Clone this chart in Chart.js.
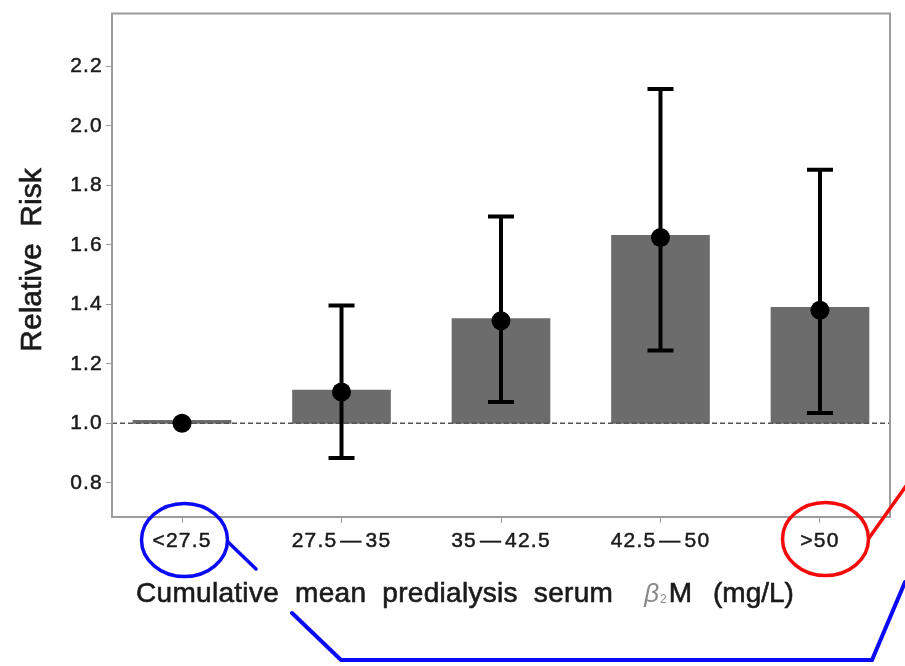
<!DOCTYPE html>
<html>
<head>
<meta charset="utf-8">
<script src="https://cdn.jsdelivr.net/npm/chart.js@4"></script>
<style>
html,body{margin:0;padding:0;background:#fff;}
#wrap{width:905px;height:666px;}
</style>
</head>
<body>
<div id="wrap"><canvas id="c" width="905" height="666"></canvas></div>
<script>
// ---- data ----
const categories = ["<27.5", "27.5\u200a\u2014\u200a35", "35\u200a\u2014\u200a42.5", "42.5\u200a\u2014\u200a50", ">50"];
const barValues = [1.0, 1.112, 1.352, 1.632, 1.39];
const pointValues = [1.0, 1.105, 1.345, 1.625, 1.38];
const lowerCI = [null, 0.883, 1.072, 1.245, 1.035];
const upperCI = [null, 1.396, 1.695, 2.124, 1.853];
const yTickValues = [0.8, 1.0, 1.2, 1.4, 1.6, 1.8, 2.0, 2.2];
const referenceValue = 1.0;
const yTitle = "Relative  Risk";
const xTitleParts = ["Cumulative", "mean", "predialysis", "serum"];

const FONT = "'Liberation Sans', Arial, Helvetica, sans-serif";
const TEXT = '#1a1a1a';

const barData = categories.map((c, i) => ({x: i + 1, y: [referenceValue, barValues[i]]}));
const pointData = categories.map((c, i) => ({x: i + 1, y: pointValues[i]}));

function boldText(ctx, t, x, y, w) {
  ctx.lineWidth = w;
  ctx.strokeStyle = ctx.fillStyle;
  ctx.strokeText(t, x, y);
  ctx.fillText(t, x, y);
}

const overlay = {
  id: 'overlay',
  beforeDraw(chart) { chart.ctx.letterSpacing = '1.2px'; },
  afterDatasetDraw(chart, args) {
    if (args.index !== 0) return;
    const {ctx, chartArea: a, scales: {x, y}} = chart;
    ctx.save();
    const yr = y.getPixelForValue(referenceValue);
    ctx.strokeStyle = '#555';
    ctx.lineWidth = 1.5;
    ctx.setLineDash([5, 3]);
    ctx.beginPath(); ctx.moveTo(a.left, yr); ctx.lineTo(a.right, yr); ctx.stroke();
    ctx.setLineDash([]);
    ctx.strokeStyle = '#000';
    ctx.lineWidth = 4;
    for (let i = 0; i < categories.length; i++) {
      if (lowerCI[i] == null) continue;
      const px = x.getPixelForValue(i + 1);
      const lo = y.getPixelForValue(lowerCI[i]);
      const hi = y.getPixelForValue(upperCI[i]);
      ctx.beginPath();
      ctx.moveTo(px, lo); ctx.lineTo(px, hi);
      ctx.moveTo(px - 13, lo); ctx.lineTo(px + 13, lo);
      ctx.moveTo(px - 13, hi); ctx.lineTo(px + 13, hi);
      ctx.stroke();
    }
    ctx.restore();
  },
  afterDraw(chart) {
    const {ctx, chartArea: a} = chart;
    ctx.save();
    ctx.letterSpacing = '0px';
    ctx.strokeStyle = '#9c9c9c';
    ctx.lineWidth = 2;
    ctx.strokeRect(a.left, a.top, a.right - a.left, a.bottom - a.top);
    // y title
    ctx.fillStyle = TEXT;
    ctx.font = "30px " + FONT;
    ctx.save();
    ctx.translate(33, 260);
    ctx.rotate(-Math.PI / 2);
    ctx.textAlign = 'center';
    ctx.textBaseline = 'middle';
    boldText(ctx, yTitle, 0, 0, 0.6);
    ctx.restore();
    // x title
    ctx.textBaseline = 'alphabetic';
    ctx.textAlign = 'left';
    ctx.font = "28px " + FONT;
    ctx.fillStyle = TEXT;
    ctx.letterSpacing = '0.3px';
    const base = 602;
    let cx = 136;
    xTitleParts.forEach((w) => {
      boldText(ctx, w, cx, base, 0.6);
      cx += ctx.measureText(w).width + 16;
    });
    cx += 15;
    ctx.letterSpacing = '0px';
    ctx.fillStyle = '#8a8a8a';
    ctx.font = "italic 26px " + FONT;
    ctx.fillText('\u03b2', cx, base);
    cx += ctx.measureText('\u03b2').width + 1;
    ctx.font = "12px " + FONT;
    ctx.fillText('2', cx, base + 1);
    cx += ctx.measureText('2').width + 2;
    ctx.fillStyle = TEXT;
    ctx.font = "28px " + FONT;
    boldText(ctx, 'M', cx, base, 0.6);
    cx += ctx.measureText('M').width + 21;
    boldText(ctx, '(mg/L)', cx, base, 0.6);
    // annotations
    ctx.lineCap = 'round';
    ctx.strokeStyle = '#0a0af5';
    ctx.lineWidth = 3.5;
    ctx.beginPath(); ctx.ellipse(184.5, 540, 43, 36.5, 0, 0, Math.PI * 2); ctx.stroke();
    ctx.beginPath(); ctx.moveTo(228, 542); ctx.lineTo(256, 569); ctx.stroke();
    ctx.lineWidth = 4;
    ctx.beginPath(); ctx.moveTo(292, 613); ctx.lineTo(341, 660); ctx.lineTo(872, 660); ctx.lineTo(905, 582); ctx.stroke();
    ctx.strokeStyle = '#f50a0a';
    ctx.lineWidth = 3.5;
    ctx.beginPath(); ctx.ellipse(825.5, 539, 43, 36.5, 0, 0, Math.PI * 2); ctx.stroke();
    ctx.beginPath(); ctx.moveTo(869, 538); ctx.lineTo(906, 486); ctx.stroke();
    ctx.restore();
  }
};

new Chart(document.getElementById('c'), {
  type: 'bar',
  data: {
    datasets: [
      {
        type: 'bar',
        data: barData,
        backgroundColor: '#6c6c6c',
        borderWidth: 0,
        barThickness: 98,
        minBarLength: 3,
        order: 2
      },
      {
        type: 'line',
        data: pointData,
        showLine: false,
        pointRadius: 9.5,
        pointHoverRadius: 9.5,
        pointBackgroundColor: '#000',
        pointBorderWidth: 0,
        order: 1
      }
    ]
  },
  options: {
    responsive: false,
    animation: false,
    events: [],
    layout: {padding: {top: 12, right: 15, left: 0, bottom: 0}},
    plugins: {legend: {display: false}, tooltip: {enabled: false}},
    scales: {
      x: {
        type: 'linear',
        offset: false,
        min: 0.561,
        max: 5.439,
        afterBuildTicks: (s) => { s.ticks = categories.map((c, i) => ({value: i + 1})); },
        afterFit: (s) => { s.height = 149; },
        grid: {offset: false, drawOnChartArea: false, drawTicks: true, tickLength: 6, color: '#9c9c9c', lineWidth: 1},
        border: {display: true, color: '#9c9c9c', width: 2},
        ticks: {
          autoSkip: false, maxRotation: 0, padding: 6,
          color: TEXT,
          textStrokeColor: TEXT,
          textStrokeWidth: 0.5,
          font: {family: FONT, size: 21},
          callback: (v) => categories[Math.round(v) - 1]
        }
      },
      y: {
        type: 'linear',
        min: 0.685,
        max: 2.378,
        afterBuildTicks: (s) => { s.ticks = yTickValues.map(v => ({value: v})); },
        afterFit: (s) => { s.width = 112; },
        grid: {drawOnChartArea: false, drawTicks: true, tickLength: 6, color: '#9c9c9c', lineWidth: 1},
        border: {display: true, color: '#9c9c9c', width: 2},
        ticks: {
          padding: 3,
          color: TEXT,
          textStrokeColor: TEXT,
          textStrokeWidth: 0.5,
          font: {family: FONT, size: 21, lineHeight: 1},
          callback: (v) => Number(v).toFixed(1)
        }
      }
    }
  },
  plugins: [overlay]
});
</script>
</body>
</html>
